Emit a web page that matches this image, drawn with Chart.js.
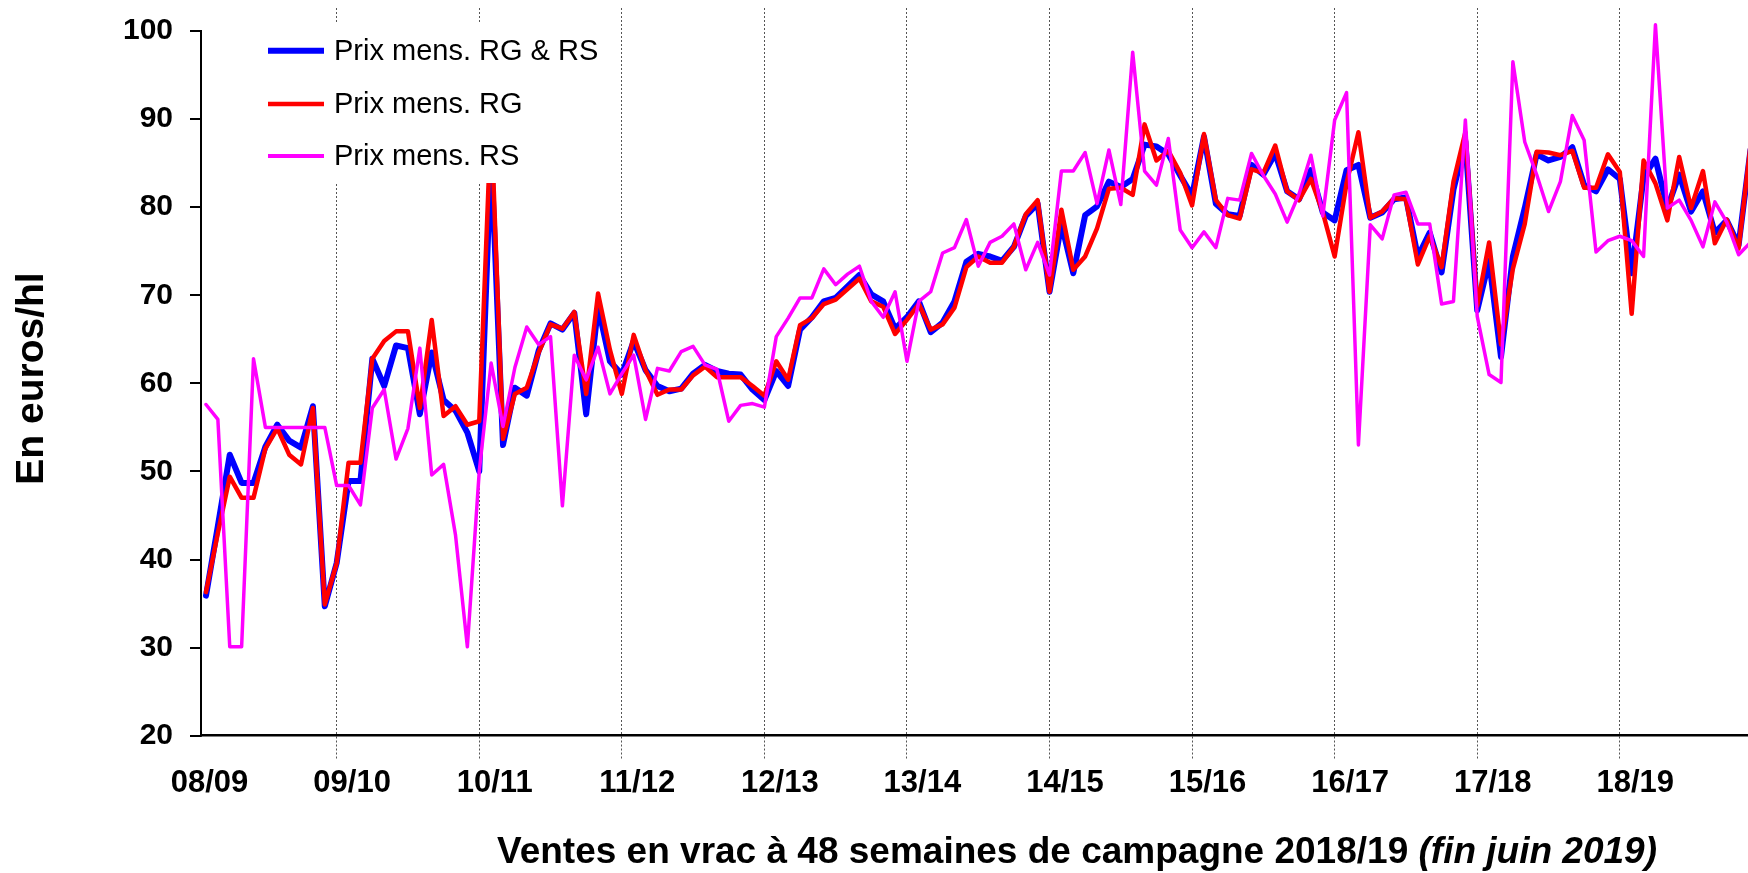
<!DOCTYPE html>
<html>
<head>
<meta charset="utf-8">
<script src="https://cdn.jsdelivr.net/npm/chart.js@4/dist/chart.umd.min.js"></script>
<style>
html,body{margin:0;padding:0;background:#fff;}
canvas{display:block;}
</style>
</head>
<body>
<canvas id="c" width="1748" height="873"></canvas>
<script>
// ---- Data (monthly index 0 = first month of 08/09) ----
const campaigns = ['08/09','09/10','10/11','11/12','12/13','13/14','14/15','15/16','16/17','17/18','18/19'];
const yTicks = [20,30,40,50,60,70,80,90,100];
const seriesNames = ['Prix mens. RG & RS','Prix mens. RG','Prix mens. RS'];
const yTitle = 'En euros/hl';
const xTitleMain = 'Ventes en vrac à 48 semaines de campagne 2018/19 ';
const xTitleItalic = '(fin juin 2019)';

const prixRGRS = [
 35.9,43.8,51.9,48.7,48.7,52.8,55.3,53.5,52.7,57.4,34.7,39.6,
 48.9,48.9,62.8,59.7,64.3,64.0,56.5,63.5,58.1,56.9,54.4,50.0,
 86.0,53.0,59.5,58.6,63.7,66.8,66.1,68.0,56.5,68.7,62.5,61.0,
 64.8,61.5,59.7,59.1,59.4,61.1,62.1,61.4,61.1,61.0,59.3,58.1,
 61.4,59.7,66.1,67.5,69.3,69.7,71.0,72.3,70.1,69.3,66.2,67.5,
 69.3,65.8,66.9,69.3,73.8,74.7,74.4,73.9,75.5,79.0,80.4,70.4,
 78.1,72.5,79.1,80.1,82.9,82.3,83.2,87.1,86.9,86.0,83.6,81.3,
 88.0,80.4,79.2,79.0,84.8,83.7,86.1,81.8,80.9,84.2,79.4,78.5,
 84.2,84.8,78.8,79.4,80.9,81.1,74.4,77.1,72.6,82.0,87.5,68.3,
 73.9,63.0,74.4,79.9,86.0,85.3,85.7,86.8,82.5,81.8,84.3,83.2,
 72.5,83.4,85.5,79.9,83.7,79.5,81.8,77.1,78.5,75.7,86.5
];
const prixRG = [
 36.3,43.0,49.4,47.0,47.0,52.6,54.9,51.9,50.8,57.2,34.9,39.6,
 51.0,51.0,62.8,64.8,65.9,65.9,57.2,67.2,56.3,57.4,55.3,55.7,
 90.0,53.7,58.8,59.5,63.5,66.7,66.2,68.1,58.8,70.2,63.8,58.8,
 65.5,61.5,58.7,59.3,59.3,60.9,61.9,60.7,60.7,60.7,59.7,58.6,
 62.5,60.4,66.6,67.4,69.0,69.5,70.7,71.9,69.3,68.7,65.6,67.2,
 69.0,66.1,66.7,68.6,73.2,74.4,73.7,73.7,75.5,79.2,80.8,70.4,
 79.7,72.9,74.4,77.6,82.1,82.2,81.4,89.4,85.3,86.4,83.9,80.2,
 88.3,80.8,79.1,78.7,84.3,83.9,87.0,81.8,80.8,83.2,79.4,74.4,
 82.7,88.5,78.8,79.5,81.0,80.9,73.5,76.7,73.2,82.9,88.5,68.8,
 76.0,64.4,73.0,78.1,86.3,86.2,85.9,86.4,82.2,82.2,86.0,84.0,
 67.9,85.3,82.7,78.5,85.7,79.9,84.1,75.9,78.6,75.3,87.0
];
const prixRS = [
 57.6,55.9,30.1,30.1,62.8,55.0,55.0,55.0,55.0,55.0,55.0,48.4,
 48.4,46.2,57.2,59.3,51.4,54.9,64.0,49.6,50.8,42.8,30.1,50.0,
 62.3,55.1,61.8,66.4,64.4,65.3,46.1,63.2,60.4,64.1,58.8,61.1,
 63.2,55.9,61.7,61.4,63.6,64.2,62.1,61.6,55.7,57.5,57.7,57.3,
 65.3,67.4,69.7,69.7,73.0,71.2,72.4,73.3,69.3,67.5,70.4,62.5,
 69.3,70.4,74.8,75.4,78.6,73.3,76.0,76.7,78.1,72.9,76.0,72.3,
 84.1,84.1,86.2,80.4,86.5,80.3,97.6,84.1,82.5,87.8,77.4,75.4,
 77.2,75.4,81.0,80.8,86.1,83.6,81.5,78.3,81.5,85.9,79.0,89.9,
 93.0,53.0,78.0,76.4,81.4,81.7,78.1,78.1,69.0,69.3,89.9,67.6,
 61.0,60.1,96.5,87.4,83.7,79.5,82.9,90.4,87.6,74.9,76.2,76.7,
 76.2,74.4,100.7,79.9,80.8,78.5,75.5,80.6,78.3,74.6,76.0
];

// campaign boundaries (grid lines) and label positions, in month index units
const gridIdx = campaigns.slice(1).map((c, k) => 11 + 12 * k);
const labelIdx = campaigns.map((c, k) => 0.3 + 12 * k);

const FONT = "'Liberation Sans', Arial, sans-serif";
const XMIN = -0.42, XMAX = 129.79;

const toPts = arr => arr.map((v, i) => ({x: i, y: v}));

const decor = {
  id: 'decor',
  afterDatasetsDraw(chart) {
    const ctx = chart.ctx;
    const ca = chart.chartArea;
    const ys = chart.scales.y;
    ctx.save();
    // y axis line from 100 down to the x axis
    ctx.strokeStyle = '#000';
    ctx.lineWidth = 2;
    ctx.beginPath();
    ctx.moveTo(ca.left, ys.getPixelForValue(100) - 1);
    ctx.lineTo(ca.left, ca.bottom + 1);
    ctx.stroke();

    // legend box (white, covering plot)
    ctx.fillStyle = '#fff';
    ctx.fillRect(254, 23, 362, 160);
    const rows = [
      {y: 50.7, color: '#0000FF', w: 6},
      {y: 104, color: '#FF0000', w: 4.5},
      {y: 156, color: '#FF00FF', w: 4}
    ];
    ctx.font = '29px ' + FONT;
    ctx.textBaseline = 'middle';
    ctx.textAlign = 'left';
    rows.forEach((r, i) => {
      ctx.strokeStyle = r.color;
      ctx.lineWidth = r.w;
      ctx.beginPath();
      ctx.moveTo(268, r.y);
      ctx.lineTo(324, r.y);
      ctx.stroke();
      ctx.fillStyle = '#000';
      ctx.fillText(seriesNames[i], 334, r.y + 1);
    });

    // y title
    ctx.save();
    ctx.translate(42.7, 378.5);
    ctx.rotate(-Math.PI / 2);
    ctx.font = 'bold 39px ' + FONT;
    ctx.textAlign = 'center';
    ctx.textBaseline = 'alphabetic';
    ctx.fillStyle = '#000';
    ctx.fillText(yTitle, 0, 0);
    ctx.restore();

    // x title (mixed styles)
    ctx.fillStyle = '#000';
    ctx.textBaseline = 'alphabetic';
    ctx.textAlign = 'left';
    const f1 = 'bold 37px ' + FONT, f2 = 'italic bold 37px ' + FONT;
    ctx.font = f1; const w1 = ctx.measureText(xTitleMain).width;
    ctx.font = f2; const w2 = ctx.measureText(xTitleItalic).width;
    const x0 = 1077 - (w1 + w2) / 2;
    ctx.font = f1; ctx.fillText(xTitleMain, x0, 863);
    ctx.font = f2; ctx.fillText(xTitleItalic, x0 + w1, 863);
    ctx.restore();
  }
};

new Chart(document.getElementById('c'), {
  type: 'line',
  data: {
    datasets: [
      {label: seriesNames[0], data: toPts(prixRGRS), borderColor: '#0000FF', borderWidth: 6, order: 2},
      {label: seriesNames[1], data: toPts(prixRG), borderColor: '#FF0000', borderWidth: 4.5, order: 1},
      {label: seriesNames[2], data: toPts(prixRS), borderColor: '#FF00FF', borderWidth: 3.5, order: 0}
    ]
  },
  options: {
    responsive: false,
    animation: false,
    devicePixelRatio: 1,
    elements: {
      point: {radius: 0, hoverRadius: 0},
      line: {tension: 0, fill: false, borderJoinStyle: 'round', borderCapStyle: 'round'}
    },
    layout: {padding: {left: 0, right: 0, top: 8, bottom: 0}},
    plugins: {legend: {display: false}, tooltip: {enabled: false}, title: {display: false}},
    scales: {
      xg: {
        type: 'linear', position: 'bottom', weight: 0, min: XMIN, max: XMAX,
        afterBuildTicks: s => { s.ticks = gridIdx.map(v => ({value: v})); },
        ticks: {display: false},
        border: {display: true, color: '#000', width: 2.5, dash: [2, 2]},
        grid: {display: true, color: '#555', lineWidth: 1, drawTicks: true, tickLength: 23,
               tickColor: '#555', tickWidth: 1, tickBorderDash: [2, 2]},
        afterFit: s => { s.height = 23; s.paddingLeft = 0; s.paddingRight = 0; }
      },
      x: {
        type: 'linear', position: 'bottom', weight: 1, min: XMIN, max: XMAX,
        afterBuildTicks: s => { s.ticks = labelIdx.map(v => ({value: v})); },
        ticks: {
          autoSkip: false, maxRotation: 0, minRotation: 0, padding: 6, color: '#000',
          font: {family: FONT, size: 31, weight: 'bold'},
          callback: (v, i) => campaigns[i]
        },
        grid: {display: false, drawTicks: false},
        border: {display: false},
        afterFit: s => { s.height = 873 - 735.7 - 23; s.paddingLeft = 0; s.paddingRight = 0; }
      },
      y: {
        type: 'linear', position: 'left', min: 20, max: 102.61,
        afterBuildTicks: s => { s.ticks = yTicks.map(v => ({value: v})); },
        ticks: {padding: 17, color: '#000', font: {family: FONT, size: 30, weight: 'bold'}},
        grid: {drawOnChartArea: false, drawTicks: true, tickLength: 11, color: '#000', lineWidth: 2},
        border: {display: false},
        afterFit: s => { s.width = 201; s.paddingTop = 0; s.paddingBottom = 0; }
      }
    }
  },
  plugins: [decor]
});
</script>
</body>
</html>
